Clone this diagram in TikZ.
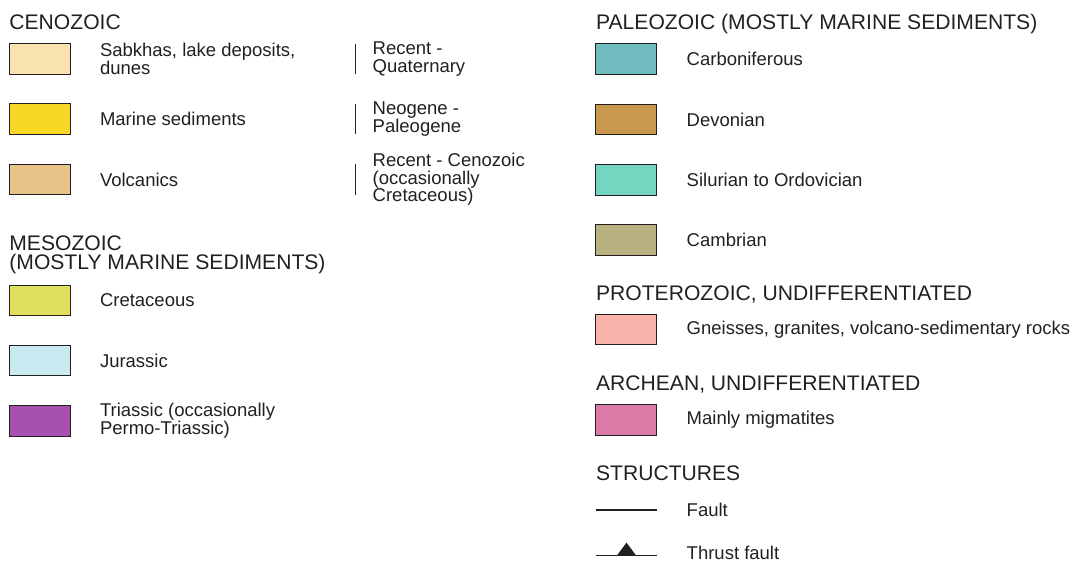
\documentclass[tikz,border=0pt]{standalone}
\usepackage{fontspec}
\setmainfont{Liberation Sans}
\usetikzlibrary{positioning}

\definecolor{ink}{HTML}{231F20}
\definecolor{sabkha}{HTML}{FAE3B0}
\definecolor{marine}{HTML}{F8D824}
\definecolor{volcanic}{HTML}{E8C48A}
\definecolor{cretac}{HTML}{E0E060}
\definecolor{jurass}{HTML}{C8EAF0}
\definecolor{triass}{HTML}{A850B0}
\definecolor{carbon}{HTML}{70BCBE}
\definecolor{devon}{HTML}{C9974D}
\definecolor{silur}{HTML}{74D6BE}
\definecolor{cambr}{HTML}{B8B080}
\definecolor{gneiss}{HTML}{F8B4AA}
\definecolor{migmat}{HTML}{DC7AA8}

\newcommand{\bodyfont}{\fontsize{9.25}{8.9}\selectfont}
\newcommand{\headfont}{\fontsize{10.55}{9.4}\selectfont}

\begin{document}
\begin{tikzpicture}[x=0.5pt, y=-0.5pt, node distance=14.9pt,
  swatch/.style={draw=ink, line width=0.5pt, minimum width=30.5pt, minimum height=15.25pt, inner sep=0pt, outer sep=0pt},
  desc/.style={font=\bodyfont, text=ink, align=left, inner sep=0pt, outer sep=0pt},
  era/.style={font=\headfont, text=ink, align=left, inner sep=0pt, anchor=base west},
  bar/.style={draw=ink, line width=0.5pt}]
\useasboundingbox (0,0) rectangle (1074,562);

% Cenozoic
\node[era] (ceno) at (9,29.5) {CENOZOIC};
\node[swatch, fill=sabkha] (sab) at (39.5,58.8) {};
\node[swatch, fill=marine, below=of sab] (mar) {};
\node[swatch, fill=volcanic, below=of mar] (vol) {};
\node[desc, right=15pt of sab] (sabt) {Sabkhas, lake deposits,\\dunes};
\node[desc, right=15pt of mar] (mart) {Marine sediments};
\node[desc, right=15pt of vol] (volt) {Volcanics};

% Age bars
\coordinate[right=142.5pt of sab] (q1);
\coordinate[right=142.5pt of mar] (q2);
\coordinate[right=142.5pt of vol] (q3);
\draw[bar] (q1 |- sab.north) -- (q1 |- sab.south);
\draw[bar] (q2 |- mar.north) -- (q2 |- mar.south);
\draw[bar] (q3 |- vol.north) -- (q3 |- vol.south);
\node[desc, right=8.85pt of q1] (age1) {Recent -\\Quaternary};
\node[desc, right=8.85pt of q2] (age2) {Neogene -\\Paleogene};
\node[desc, right=8.85pt of q3] (age3) {Recent - Cenozoic\\(occasionally\\Cretaceous)};

% Mesozoic
\node[era] (meso) at (9,269.3) {MESOZOIC\\(MOSTLY MARINE SEDIMENTS)};
\node[swatch, fill=cretac] (cre) at (39.5,300.3) {};
\node[swatch, fill=jurass, below=of cre] (jur) {};
\node[swatch, fill=triass, below=of jur] (tri) {};
\node[desc, right=15pt of cre] (cret) {Cretaceous};
\node[desc, right=15pt of jur] (jurt) {Jurassic};
\node[desc, right=15pt of tri] (trit) {Triassic (occasionally\\Permo-Triassic)};

% Paleozoic
\node[era] (paleo) at (595.7,29.3) {PALEOZOIC (MOSTLY MARINE SEDIMENTS)};
\node[swatch, fill=carbon] (car) at (626.2,59.2) {};
\node[swatch, fill=devon, below=of car] (dev) {};
\node[swatch, fill=silur, below=of dev] (sil) {};
\node[swatch, fill=cambr, below=of sil] (cam) {};
\node[desc, right=15pt of car] (cart) {Carboniferous};
\node[desc, right=15pt of dev] (devt) {Devonian};
\node[desc, right=15pt of sil] (silt) {Silurian to Ordovician};
\node[desc, right=15pt of cam] (camt) {Cambrian};

% Proterozoic and Archean
\node[era] (prot) at (595.7,300) {PROTEROZOIC, UNDIFFERENTIATED};
\node[swatch, fill=gneiss] (gne) at (626.2,329.7) {};
\node[desc, right=15pt of gne] (gnet) {Gneisses, granites, volcano-sedimentary rocks};
\node[era] (arch) at (595.7,390) {ARCHEAN, UNDIFFERENTIATED};
\node[swatch, fill=migmat] (mig) at (626.2,420.2) {};
\node[desc, right=15pt of mig] (migt) {Mainly migmatites};

% Structures
\node[era] (struc) at (595.7,480) {STRUCTURES};
\coordinate (fa) at (595.7,510);
\coordinate (fb) at (656.7,510);
\draw[bar, line width=0.6pt] (fa) -- (fb);
\node[desc, right=15pt of fb] (faultt) {Fault};
\coordinate (ta) at (595.7,555.3);
\coordinate (tb) at (656.7,555.3);
\coordinate (tm) at (626.5,555.3);
\draw[bar, line width=0.6pt] (ta) -- (tb);
\fill[ink] ([xshift=-4.7pt]tm) -- ([xshift=4.7pt]tm) -- ([yshift=6.35pt]tm) -- cycle;
\node[desc, right=15pt of tb, yshift=1.1pt] (thrustt) {Thrust fault};
\end{tikzpicture}
\end{document}
